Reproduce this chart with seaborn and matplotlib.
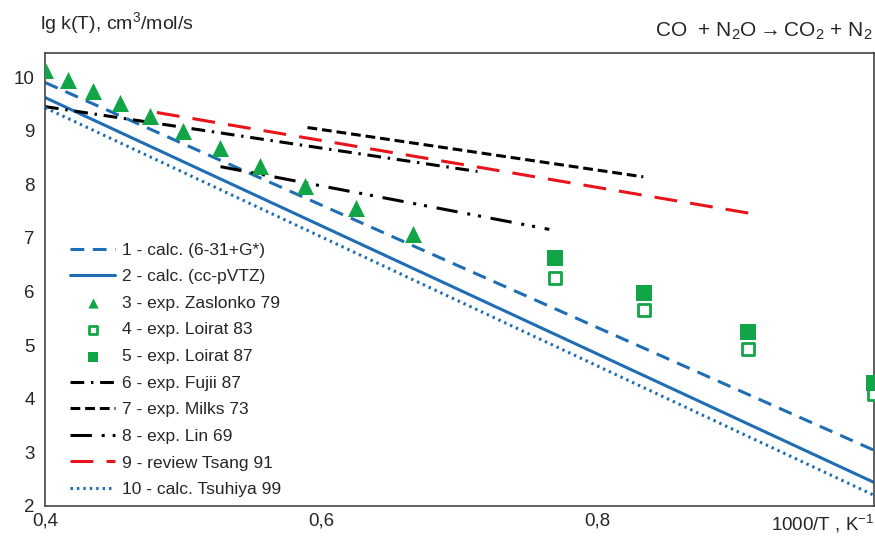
import numpy as np
import pandas as pd
import matplotlib
matplotlib.use("Agg")
import matplotlib.pyplot as plt
import seaborn as sns

# ---- data (x = 1000/T, K^-1 ; y = lg k) ----
calc_631_x = [0.4, 1.0]
calc_631_y = [9.9, 3.04]
calc_ccpvtz_x = [0.4, 1.0]
calc_ccpvtz_y = [9.62, 2.44]
tsuhiya_x = [0.4, 1.0]
tsuhiya_y = [9.43, 2.2]

zaslonko_x = [0.4, 0.4167, 0.4348, 0.4545, 0.4762, 0.5, 0.5263, 0.5556, 0.5882, 0.625, 0.6667]
zaslonko_y = [10.13, 9.95, 9.74, 9.52, 9.27, 9.0, 8.67, 8.34, 7.97, 7.56, 7.08]

loirat_x = [0.7692, 0.8333, 0.9091, 1.0]
loirat83_y = [6.26, 5.66, 4.92, 4.08]
loirat87_y = [6.63, 5.98, 5.25, 4.3]

fujii_x = [0.4, 0.713]
fujii_y = [9.45, 8.24]
milks_x = [0.59, 0.833]
milks_y = [9.06, 8.14]
lin_x = [0.527, 0.765]
lin_y = [8.33, 7.16]
tsang_x = [0.481, 0.91]
tsang_y = [9.34, 7.46]

x_ticks = [0.4, 0.6, 0.8, 1.0]
x_labels = ["0,4", "0,6", "0,8", "1000/T , K$^{-1}$"]

blue = "#1f6db5"
green = "#12a548"
red = "#e8141b"
black = "#000000"

sns.set_style("white")
plt.rcParams["font.family"] = ["Liberation Sans", "DejaVu Sans"]
plt.rcParams["mathtext.fontset"] = "custom"
plt.rcParams["mathtext.rm"] = "Liberation Sans"
plt.rcParams["mathtext.it"] = "Liberation Sans:italic"
plt.rcParams["mathtext.default"] = "rm"

fig = plt.figure(figsize=(8.75, 5.41), dpi=100)
ax = fig.add_axes([45 / 875, 1 - 506 / 541, 829 / 875, 453 / 541])

lw = 2.2
sns.lineplot(x=calc_631_x, y=calc_631_y, ax=ax, color=blue, linewidth=lw,
             ls=(0, (4.5, 2.8)), label="1 - calc. (6-31+G*)")
sns.lineplot(x=calc_ccpvtz_x, y=calc_ccpvtz_y, ax=ax, color=blue, linewidth=lw,
             label="2 - calc. (cc-pVTZ)")
sns.scatterplot(x=zaslonko_x, y=zaslonko_y, ax=ax, color=green, marker="^", s=150,
                linewidth=0, label="3 - exp. Zaslonko 79", zorder=5)
sns.scatterplot(x=loirat_x, y=loirat83_y, ax=ax, marker="s", s=85, facecolor="white",
                edgecolor=green, linewidth=2, label="4 - exp. Loirat 83", zorder=5)
sns.scatterplot(x=loirat_x, y=loirat87_y, ax=ax, color=green, marker="s", s=140,
                linewidth=0, label="5 - exp. Loirat 87", zorder=5)
sns.lineplot(x=fujii_x, y=fujii_y, ax=ax, color=black, linewidth=lw,
             ls=(0, (4.5, 2.2, 0.8, 2.2)), label="6 - exp. Fujii 87")
sns.lineplot(x=milks_x, y=milks_y, ax=ax, color=black, linewidth=lw,
             ls=(0, (3.2, 1.6)), label="7 - exp. Milks 73")
sns.lineplot(x=lin_x, y=lin_y, ax=ax, color=black, linewidth=lw,
             ls=(0, (7, 3.2, 1.0, 2.6, 1.0, 3.2)), label="8 - exp. Lin 69")
sns.lineplot(x=tsang_x, y=tsang_y, ax=ax, color=red, linewidth=lw,
             ls=(0, (7.5, 4.3)), label="9 - review Tsang 91")
sns.lineplot(x=tsuhiya_x, y=tsuhiya_y, ax=ax, color=blue, linewidth=lw,
             ls=(0, (0.8, 1.3)), label="10 - calc. Tsuhiya 99")

ax.set_xlim(0.4, 1.0)
ax.set_ylim(2, 10.45)
ax.set_xticks(x_ticks)
ax.set_xticklabels(x_labels)
ax.get_xticklabels()[-1].set_horizontalalignment("right")
ax.set_yticks(range(2, 11))
ax.tick_params(axis="x", direction="in", length=6, labelsize=13.5, pad=5, color="#333333")
ax.tick_params(axis="y", direction="inout", length=8, labelsize=13.5, color="#333333")
for sp in ax.spines.values():
    sp.set_color("#444444")
    sp.set_linewidth(1.2)

fig.text(40 / 875, 1 - 29 / 541, "lg k(T), cm$^3$/mol/s", fontsize=14, ha="left", va="baseline")
fig.text(873 / 875, 1 - 37 / 541, "CO  + N$_2$O$\\rightarrow$CO$_2$ + N$_2$", fontsize=15,
         ha="right", va="baseline")

ax.legend(loc="upper left", bbox_to_anchor=(0.022, 0.597), frameon=False, fontsize=12.5,
          handlelength=2.6, handletextpad=0.4, labelspacing=0.66, markerscale=0.6,
          borderaxespad=0)

fig.savefig("out.png", dpi=100)
